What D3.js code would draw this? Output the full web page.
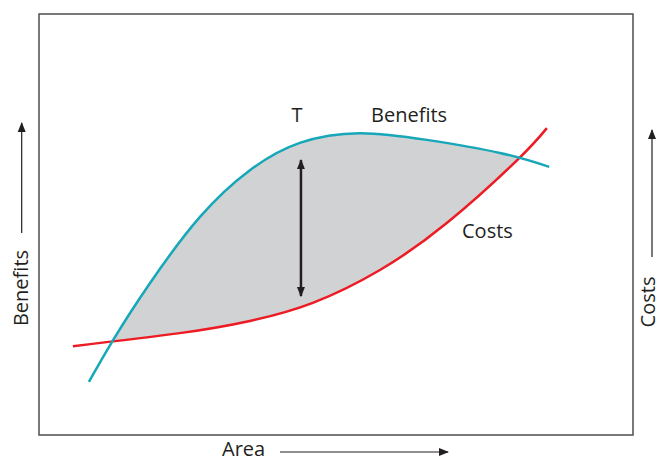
<!DOCTYPE html>
<html>
<head>
<meta charset="utf-8">
<script src="https://cdn.jsdelivr.net/npm/d3@7"></script>
<style>
  html, body { margin: 0; padding: 0; background: #fff; }
  svg { display: block; }
  text { font-family: "Open Sans", "Noto Sans", sans-serif; fill: #231f20; }
</style>
</head>
<body>
<svg id="chart" width="661" height="462"></svg>
<script>
// ---- data (x = area, y = value, both on 0-100 scale) ----
const benefitsX = [8.4, 12.5, 18.7, 27.1, 35.5, 43.9, 54.0, 65.3, 77.6, 85.9];
const benefitsY = [12.6, 22.6, 36.1, 51.8, 62.9, 69.4, 71.7, 70.1, 67.0, 63.7];
const costsX = [5.7, 23.7, 35.5, 46.1, 57.4, 68.7, 80.5, 85.5];
const costsY = [21.1, 24.2, 27.1, 31.4, 39.2, 50.4, 65.3, 72.9];
const gapX = 44.1;            // position of the double arrow
const gapFrom = 33.0, gapTo = 65.3;
const labels = { t: "T", benefits: "Benefits", costs: "Costs", xAxis: "Area", yLeft: "Benefits", yRight: "Costs" };

const benefits = benefitsX.map((x, i) => ({ x, y: benefitsY[i] }));
const costs = costsX.map((x, i) => ({ x, y: costsY[i] }));

const svg = d3.select("#chart");
const frame = { left: 39, top: 14, right: 633, bottom: 435 };
const x = d3.scaleLinear().domain([0, 100]).range([frame.left, frame.right]);
const y = d3.scaleLinear().domain([0, 100]).range([frame.bottom, frame.top]);

const ink = "#231f20";
const defs = svg.append("defs");
defs.append("marker").attr("id", "arrow")
  .attr("viewBox", "0 0 10 10").attr("refX", 9).attr("refY", 5)
  .attr("markerWidth", 10).attr("markerHeight", 10)
  .attr("markerUnits", "userSpaceOnUse")
  .attr("orient", "auto-start-reverse")
  .append("path").attr("d", "M0,1 L10,5 L0,9 Z").attr("fill", ink);

// frame
svg.append("rect")
  .attr("x", frame.left).attr("y", frame.top)
  .attr("width", frame.right - frame.left).attr("height", frame.bottom - frame.top)
  .attr("fill", "none").attr("stroke", "#4d4d4f").attr("stroke-width", 1.5);

const curve = d3.curveNatural;

// clip: region above costs curve
defs.append("clipPath").attr("id", "aboveCosts")
  .append("path")
  .attr("d", d3.area().curve(curve).x(d => x(d.x)).y0(frame.top).y1(d => y(d.y))(costs));

// fill: region under benefits, clipped to above costs
svg.append("path")
  .attr("d", d3.area().curve(curve).x(d => x(d.x)).y0(frame.bottom).y1(d => y(d.y))(benefits))
  .attr("fill", "#d1d2d4")
  .attr("clip-path", "url(#aboveCosts)");

const line = d3.line().curve(curve).x(d => x(d.x)).y(d => y(d.y));

svg.append("path").attr("d", line(costs))
  .attr("fill", "none").attr("stroke", "#ed1c24").attr("stroke-width", 2.5);
svg.append("path").attr("d", line(benefits))
  .attr("fill", "none").attr("stroke", "#16a7b9").attr("stroke-width", 2.5);

// double arrow
svg.append("line")
  .attr("x1", x(gapX)).attr("x2", x(gapX))
  .attr("y1", y(gapFrom)).attr("y2", y(gapTo))
  .attr("stroke", ink).attr("stroke-width", 2.5)
  .attr("marker-start", "url(#arrow)").attr("marker-end", "url(#arrow)");

const fs = 20;
// labels inside
svg.append("text").attr("x", 297).attr("y", 122).attr("text-anchor", "middle")
  .attr("font-size", fs).text(labels.t);
svg.append("text").attr("x", 371).attr("y", 122)
  .attr("font-size", fs).text(labels.benefits);
svg.append("text").attr("x", 462).attr("y", 238)
  .attr("font-size", fs).text(labels.costs);

// axis labels with arrows
svg.append("text").attr("x", 222).attr("y", 456)
  .attr("font-size", fs).text(labels.xAxis);
svg.append("line").attr("x1", 280).attr("x2", 448).attr("y1", 452).attr("y2", 452)
  .attr("stroke", ink).attr("stroke-width", 1.2).attr("marker-end", "url(#arrow)");

svg.append("text").attr("transform", "translate(28,288) rotate(-90)")
  .attr("text-anchor", "middle").attr("font-size", fs).text(labels.yLeft);
svg.append("line").attr("x1", 21.7).attr("x2", 21.7).attr("y1", 233).attr("y2", 123)
  .attr("stroke", ink).attr("stroke-width", 1.2).attr("marker-end", "url(#arrow)");

svg.append("text").attr("transform", "translate(655,302) rotate(-90)")
  .attr("text-anchor", "middle").attr("font-size", fs).text(labels.yRight);
svg.append("line").attr("x1", 652).attr("x2", 652).attr("y1", 257).attr("y2", 130)
  .attr("stroke", ink).attr("stroke-width", 1.2).attr("marker-end", "url(#arrow)");
</script>
</body>
</html>
